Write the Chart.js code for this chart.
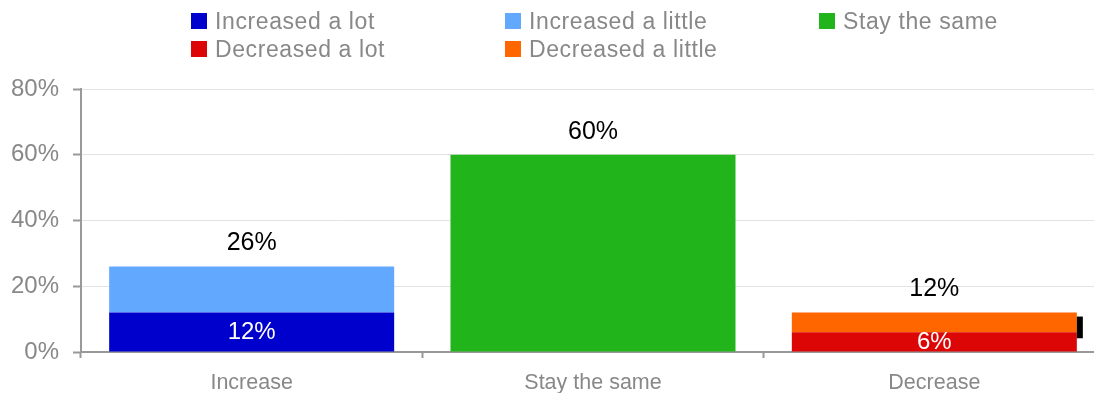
<!DOCTYPE html>
<html>
<head>
<meta charset="utf-8">
<script src="https://cdn.jsdelivr.net/npm/chart.js@4/dist/chart.umd.min.js"></script>
<style>
  html, body { margin: 0; padding: 0; background: #fff; overflow: hidden; }
  body { width: 1094px; height: 393px; position: relative; font-family: 'Liberation Sans', Arial, sans-serif; }
  #wrap { position: absolute; left: 0; top: 0; width: 1105px; height: 393px; }
  #legend {
    position: absolute; left: 191px; top: 7px; z-index: 2;
    display: grid; grid-template-columns: 314px 314px 200px; grid-auto-rows: 28px;
  }
  .item { display: flex; align-items: center; font-size: 23px; letter-spacing: 0.6px; color: #888; white-space: nowrap; }
  .box { width: 16px; height: 16px; margin-right: 8px; flex: none; }
</style>
</head>
<body>
<div id="legend"></div>
<div id="wrap"><canvas id="chart"></canvas></div>
<script>
// categories and series (percent of respondents)
const categories = ['Increase', 'Stay the same', 'Decrease'];
const seriesNames = ['Increased a lot', 'Increased a little', 'Stay the same', 'Decreased a lot', 'Decreased a little'];
const incLot    = [12, null, null];
const incLittle = [14, null, null];
const stay      = [null, 60, null];
const decLot    = [null, null, 6];
const decLittle = [null, null, 6];
const yTicks = [0, 20, 40, 60, 80];

const colors = ['#0000cc', '#63a8ff', '#22b51b', '#dd0606', '#ff6600'];
const series = [incLot, incLittle, stay, decLot, decLittle];
// only the "a lot" segments carry a label inside the bar
const innerLabel = [true, false, false, true, false];

const FONT = "'Liberation Sans', Arial, sans-serif";

// html legend, 3 columns
const legendEl = document.getElementById('legend');
seriesNames.forEach((name, i) => {
  const it = document.createElement('div');
  it.className = 'item';
  it.innerHTML = `<span class="box" style="background:${colors[i]}"></span>${name}`;
  legendEl.appendChild(it);
});

const labelPlugin = {
  id: 'barLabels',
  afterDatasetsDraw(chart) {
    const ctx = chart.ctx;
    ctx.save();
    ctx.textAlign = 'center';
    ctx.textBaseline = 'middle';
    // values inside the bottom segments
    chart.data.datasets.forEach((ds, di) => {
      if (!innerLabel[di]) return;
      const meta = chart.getDatasetMeta(di);
      meta.data.forEach((el, i) => {
        const v = ds.data[i];
        if (v == null) return;
        ctx.font = `24px ${FONT}`;
        ctx.fillStyle = '#fff';
        ctx.fillText(v + '%', el.x, (el.y + el.base) / 2);
      });
    });
    // totals above each stack
    categories.forEach((c, i) => {
      let total = 0, topY = Infinity, x = 0;
      chart.data.datasets.forEach((ds, di) => {
        const v = ds.data[i];
        if (v == null) return;
        total += v;
        const el = chart.getDatasetMeta(di).data[i];
        if (el.y < topY) { topY = el.y; x = el.x; }
      });
      ctx.font = `25px ${FONT}`;
      ctx.fillStyle = '#000';
      ctx.fillText(total + '%', x, topY - 23);
    });
    // small black tab on the right side of the decrease stack
    const el = chart.getDatasetMeta(4).data[2];
    ctx.fillStyle = '#000';
    ctx.fillRect(el.x + el.width / 2, el.y + 4, 6, el.base - el.y + 2);
    ctx.restore();
  }
};

new Chart(document.getElementById('chart'), {
  type: 'bar',
  data: {
    labels: categories,
    datasets: series.map((d, i) => ({
      label: seriesNames[i],
      data: d,
      backgroundColor: colors[i],
      borderWidth: 0,
      categoryPercentage: 1,
      barPercentage: 0.835
    }))
  },
  options: {
    responsive: true,
    maintainAspectRatio: false,
    animation: false,
    layout: { padding: { top: 89, right: 0, bottom: 0, left: 0 } },
    plugins: { legend: { display: false }, tooltip: { enabled: false } },
    scales: {
      x: {
        stacked: true,
        offset: true,
        afterFit: s => { s.height = 41; },
        grid: { display: true, drawOnChartArea: false, offset: true, tickLength: 6, tickColor: '#999', tickWidth: 2 },
        border: { color: '#999', width: 2 },
        ticks: { color: '#888', font: { family: FONT, size: 21.5 }, padding: 12, maxRotation: 0 }
      },
      y: {
        stacked: true,
        min: 0,
        max: 80,
        afterFit: s => { s.width = 81; },
        afterBuildTicks: s => { s.ticks = yTicks.map(v => ({ value: v })); },
        grid: { color: '#e2e2e2', lineWidth: 1, tickLength: 8, tickColor: '#999', tickWidth: 2 },
        border: { color: '#999', width: 2 },
        ticks: { color: '#888', font: { family: FONT, size: 24 }, padding: 14, callback: v => v + '%' }
      }
    }
  },
  plugins: [labelPlugin]
});
</script>
</body>
</html>
